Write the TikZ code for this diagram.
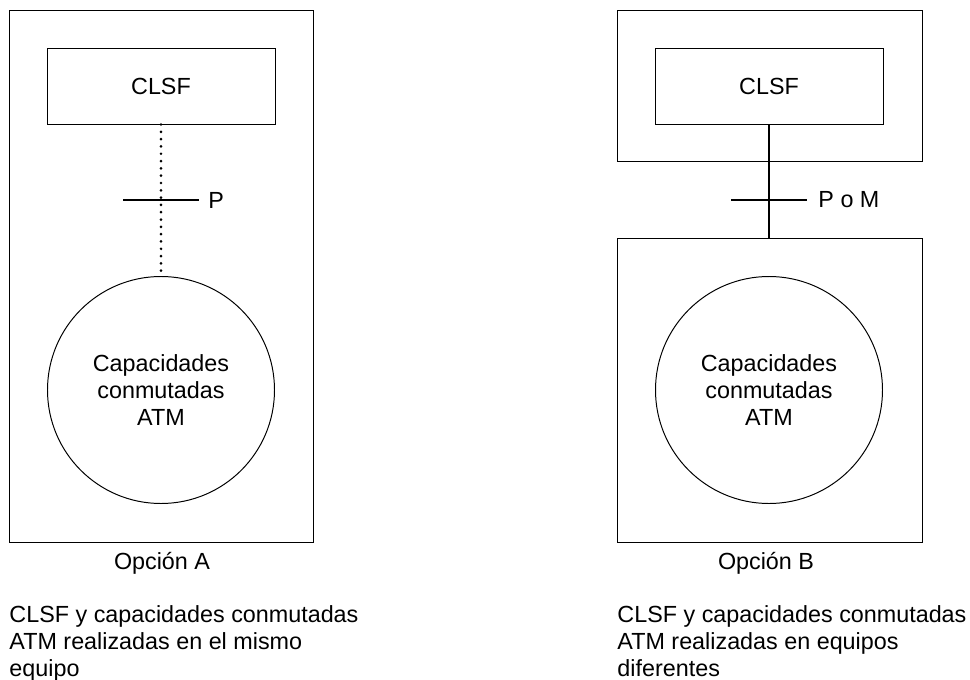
\documentclass[tikz,border=0pt]{standalone}
\usepackage{fontspec}
\setmainfont{Liberation Sans}
\usetikzlibrary{positioning}

\tikzset{
    wire/.style={line width=1.3pt},
    dotwire/.style={line width=2.1pt, line cap=round, dash pattern=on 0pt off 5.2pt},
    caption/.style={inner sep=0pt, align=left, anchor=north west}
}

\begin{document}
\begin{tikzpicture}[x=0.25mm, y=-0.25mm, line width=0.7pt,
        font=\fontsize{16.6}{19.4}\selectfont]
        \useasboundingbox (0, 0) rectangle (970, 680);

        % Opcion A
        \node[draw, minimum width=76mm, minimum height=133mm] (outerA) at (161, 276) {};
        \node[draw, minimum width=57mm, minimum height=19mm] (clsfA) at (161, 86) {CLSF};
        \node[draw, circle, inner sep=0pt, minimum size=56.75mm, align=center] (capA) at (161, 390) {Capacidades\\conmutadas\\ATM};
        \draw[dotwire] (clsfA) -- (capA);
        \coordinate (tickAl) at (123, 200);
        \coordinate (tickAr) at (199, 200);
        \draw[wire] (tickAl) -- (tickAr);
        \node[anchor=west, inner sep=0pt] (refA) at (208, 200) {P};
        \node (optA) at (162, 563) {Opción A};
        \node[caption] (descA) at (9, 605) {CLSF y capacidades conmutadas\\ATM realizadas en el mismo\\equipo};

        % Opcion B
        \node[draw, minimum width=76.25mm, minimum height=37.75mm] (outerB) at (769.5, 85.5) {};
        \node[draw, minimum width=57mm, minimum height=19mm] (clsfB) at (769, 86) {CLSF};
        \node[draw, minimum width=76.25mm, minimum height=76mm] (lowerB) at (769.5, 390) {};
        \node[draw, circle, inner sep=0pt, minimum size=56.75mm, align=center] (capB) at (769, 390) {Capacidades\\conmutadas\\ATM};
        \draw[wire] (clsfB.south) -- (clsfB.south |- lowerB.north);
        \coordinate (tickBl) at (731, 200);
        \coordinate (tickBr) at (807, 200);
        \draw[wire] (tickBl) -- (tickBr);
        \node[anchor=west, inner sep=0pt] (refB) at (818, 200) {P o M};
        \node (optB) at (766, 563) {Opción B};
        \node[caption] (descB) at (617, 605) {CLSF y capacidades conmutadas\\ATM realizadas en equipos\\diferentes};
\end{tikzpicture}
\end{document}
